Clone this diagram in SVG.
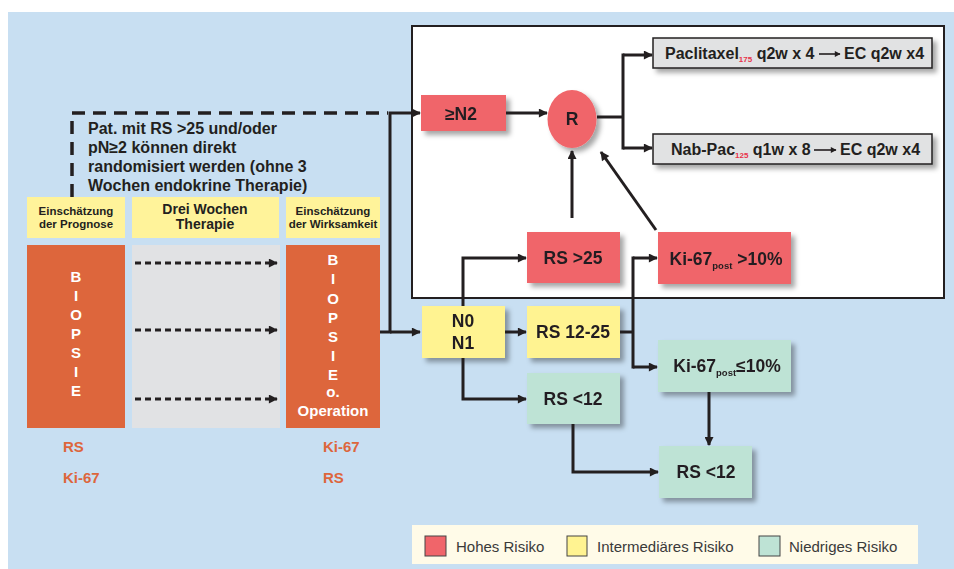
<svg xmlns="http://www.w3.org/2000/svg" width="954" height="569" viewBox="0 0 954 569">
<defs>
<style>
.t{font-family:"Liberation Sans",Arial,sans-serif;font-weight:bold;fill:#231f20}
.w{font-family:"Liberation Sans",Arial,sans-serif;font-weight:bold;fill:#fff;font-size:15px;text-anchor:middle}
.o{font-family:"Liberation Sans",Arial,sans-serif;font-weight:bold;fill:#dd663c;font-size:15px}
.lg{font-family:"Liberation Sans",Arial,sans-serif;fill:#3a3a3a;font-size:15px}
.n{font-size:17.5px;text-anchor:middle}
.hd{font-size:11.5px;text-anchor:middle}
.red{fill:#f0656a}
.yel{fill:#fff391}
.grn{fill:#bee3d5}
.c{fill:none;stroke:#231f20;stroke-width:3}
.d{fill:none;stroke:#231f20;stroke-width:3;stroke-dasharray:6 4}
.sub{font-size:9.5px}
</style>
<marker id="ah" viewBox="0 0 10 10" refX="9" refY="5" markerWidth="3.4" markerHeight="3" orient="auto" markerUnits="strokeWidth">
<path d="M0,0 L10,5 L0,10 z" fill="#231f20"/>
</marker>
<marker id="ahs" viewBox="0 0 10 10" refX="9" refY="5" markerWidth="4" markerHeight="3.6" orient="auto" markerUnits="strokeWidth">
<path d="M0,0 L10,5 L0,10 z" fill="#231f20"/>
</marker>
<filter id="sh" x="-20%" y="-20%" width="150%" height="160%">
<feDropShadow dx="4" dy="4" stdDeviation="2.5" flood-color="#000" flood-opacity="0.35"/>
</filter>
</defs>

<rect x="0" y="0" width="954" height="569" fill="#fff"/>
<rect x="8" y="12" width="946" height="557" fill="#c8dff2"/>

<!-- white trial frame -->
<rect id="frame" x="412" y="26" width="532" height="272" fill="#fff" stroke="#231f20" stroke-width="2"/>

<!-- left column -->
<g id="hdr-prognose">
<rect x="27" y="197" width="98" height="41" fill="#fff39a"/>
<text class="t hd" x="76" y="215">Einschätzung</text>
<text class="t hd" x="76" y="228">der Prognose</text>
</g>
<g id="hdr-therapie">
<rect x="132" y="197" width="147" height="41" fill="#fff39a"/>
<text class="t" x="205" y="214" font-size="14" text-anchor="middle">Drei Wochen</text>
<text class="t" x="205" y="229" font-size="14" text-anchor="middle">Therapie</text>
</g>
<g id="hdr-wirksamkeit">
<rect x="286" y="197" width="94" height="41" fill="#fff39a"/>
<text class="t hd" x="333" y="215">Einschätzung</text>
<text class="t hd" x="333" y="228">der Wirksamkeit</text>
</g>

<g id="biopsie1">
<rect x="27" y="245" width="98" height="183" fill="#dd663c"/>
<text class="w" x="76" y="282">B</text>
<text class="w" x="76" y="301">I</text>
<text class="w" x="76" y="320">O</text>
<text class="w" x="76" y="339">P</text>
<text class="w" x="76" y="358">S</text>
<text class="w" x="76" y="377">I</text>
<text class="w" x="76" y="396">E</text>
</g>
<g id="therapie">
<rect x="132" y="245" width="148" height="183" fill="#e1e2e4"/>
</g>
<g id="biopsie2">
<rect x="286" y="245" width="94" height="183" fill="#dd663c"/>
<text class="w" x="333" y="265">B</text>
<text class="w" x="333" y="284">I</text>
<text class="w" x="333" y="304">O</text>
<text class="w" x="333" y="323">P</text>
<text class="w" x="333" y="342">S</text>
<text class="w" x="333" y="361">I</text>
<text class="w" x="333" y="380">E</text>
<text class="w" x="333" y="397">o.</text>
<text class="w" x="333" y="416" font-size="15.5">Operation</text>
</g>
<g id="marker-left">
<text class="o" x="63" y="452">RS</text>
<text class="o" x="63" y="483">Ki-67</text>
</g>
<g id="marker-right">
<text class="o" x="323" y="452">Ki-67</text>
<text class="o" x="323" y="483">RS</text>
</g>

<g id="note">
<text class="t" font-size="16" x="88" y="134">Pat. mit RS &gt;25 und/oder</text>
<text class="t" font-size="16" x="88" y="153">pN≥2 können direkt</text>
<text class="t" font-size="16" x="88" y="172">randomisiert werden (ohne 3</text>
<text class="t" font-size="16" x="88" y="191">Wochen endokrine Therapie)</text>
</g>

<!-- right nodes -->
<g id="n2" filter="url(#sh)">
<rect class="red" x="421" y="95" width="85" height="36"/>
<text class="t n" x="461" y="120">≥N2</text>
</g>
<g id="R" filter="url(#sh)">
<ellipse class="red" cx="572" cy="119" rx="24.5" ry="29"/>
<text class="t n" x="572" y="125">R</text>
</g>
<g id="paclitaxel" filter="url(#sh)">
<rect x="653" y="38" width="279" height="30" fill="#e1e2e3" stroke="#231f20" stroke-width="1.5"/>
</g>
<g id="paclitaxel-text">
<text class="t" font-size="16" x="665" y="59">Paclitaxel<tspan font-size="8" fill="#e8334a" dy="3">175</tspan><tspan dy="-3"> q2w x 4</tspan></text>
<line x1="819" y1="54" x2="840" y2="54" stroke="#231f20" stroke-width="1.6" marker-end="url(#ahs)"/>
<text class="t" font-size="16" x="844" y="59">EC q2w x4</text>
</g>
<g id="nabpac" filter="url(#sh)">
<rect x="653" y="134" width="279" height="30" fill="#e1e2e3" stroke="#231f20" stroke-width="1.5"/>
</g>
<g id="nabpac-text">
<text class="t" font-size="16" x="671" y="155">Nab-Pac<tspan font-size="8" fill="#e8334a" dy="3">125</tspan><tspan dy="-3"> q1w x 8</tspan></text>
<line x1="814" y1="150" x2="836" y2="150" stroke="#231f20" stroke-width="1.6" marker-end="url(#ahs)"/>
<text class="t" font-size="16" x="840" y="155">EC q2w x4</text>
</g>

<g id="n0n1" filter="url(#sh)">
<rect class="yel" x="422" y="306" width="83" height="52"/>
<text class="t n" x="463" y="327">N0</text>
<text class="t n" x="463" y="349">N1</text>
</g>
<g id="rs-gt25" filter="url(#sh)">
<rect class="red" x="527" y="232" width="93" height="51"/>
<text class="t n" x="573" y="264">RS &gt;25</text>
</g>
<g id="rs-12-25" filter="url(#sh)">
<rect class="yel" x="527" y="306" width="93" height="52"/>
<text class="t n" x="573" y="338">RS 12-25</text>
</g>
<g id="rs-lt12-a" filter="url(#sh)">
<rect class="grn" x="527" y="373" width="93" height="51"/>
<text class="t n" x="573" y="405">RS &lt;12</text>
</g>
<g id="ki-gt10" filter="url(#sh)">
<rect class="red" x="658" y="232" width="133" height="52"/>
<text class="t n" x="726" y="265">Ki-67<tspan class="sub" dy="4">post</tspan><tspan dy="-4"> &gt;10%</tspan></text>
</g>
<g id="ki-le10" filter="url(#sh)">
<rect class="grn" x="658" y="340" width="133" height="52"/>
<text class="t n" x="727" y="372">Ki-67<tspan class="sub" dy="4">post</tspan><tspan dy="-4">≤10%</tspan></text>
</g>
<g id="rs-lt12-b" filter="url(#sh)">
<rect class="grn" x="659" y="446" width="93" height="52"/>
<text class="t n" x="706" y="478">RS &lt;12</text>
</g>

<!-- connectors -->
<g id="connectors">
<path d="M72,197 V113 H388" fill="none" stroke="#231f20" stroke-width="3.5" stroke-dasharray="13 8"/>
<path class="c" d="M380,332 H390 V113 H420" marker-end="url(#ah)"/>
<path class="c" d="M390,332 H420" marker-end="url(#ah)"/>
<path class="d" d="M135,263 H277" marker-end="url(#ah)"/>
<path class="d" d="M135,330 H277" marker-end="url(#ah)"/>
<path class="d" d="M135,399 H277" marker-end="url(#ah)"/>
<path class="c" d="M506,113 H547" marker-end="url(#ah)"/>
<path class="c" d="M597,117 H623"/>
<path class="c" d="M623,55 H652" marker-end="url(#ah)"/>
<path class="c" d="M623,148 H652" marker-end="url(#ah)"/>
<path class="c" d="M623,53.5 V149.5"/>
<path class="c" d="M463,306 V258 H526" marker-end="url(#ah)"/>
<path class="c" d="M463,358 V399 H526" marker-end="url(#ah)"/>
<path class="c" d="M505,332 H526" marker-end="url(#ah)"/>
<path class="c" d="M620,332 H633"/>
<path class="c" d="M633,258 H657" marker-end="url(#ah)"/>
<path class="c" d="M633,367 H657" marker-end="url(#ah)"/>
<path class="c" d="M633,256.5 V368.5"/>
<path class="c" d="M572,218 V151" marker-end="url(#ah)"/>
<path class="c" d="M656,230 L601,152" marker-end="url(#ah)"/>
<path class="c" d="M709,392 V445" marker-end="url(#ah)"/>
<path class="c" d="M573,424 V472 H658" marker-end="url(#ah)"/>
</g>

<!-- legend -->
<g id="legend">
<rect x="412" y="525" width="506" height="39" fill="#fffbe8"/>
<rect x="425" y="536" width="21" height="20" class="red" stroke="#444" stroke-width="1"/>
<text class="lg" x="456" y="552">Hohes Risiko</text>
<rect x="567" y="536" width="20" height="20" class="yel" stroke="#444" stroke-width="1"/>
<text class="lg" x="597" y="552">Intermediäres Risiko</text>
<rect x="759" y="536" width="21" height="20" class="grn" stroke="#444" stroke-width="1"/>
<text class="lg" x="789" y="552">Niedriges Risiko</text>
</g>
</svg>
